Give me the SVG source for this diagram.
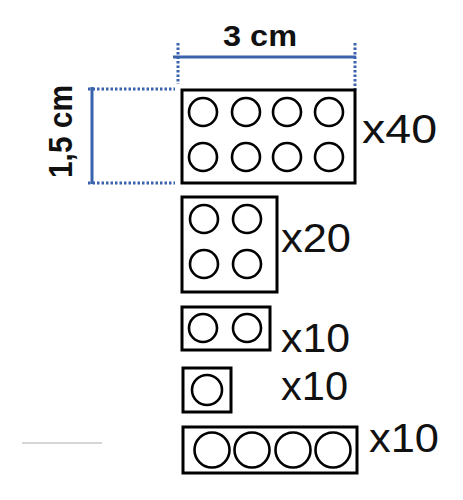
<svg xmlns="http://www.w3.org/2000/svg" width="463" height="500" viewBox="0 0 463 500">
<style>
.brick{fill:#fff;stroke:#000;stroke-width:3}
.stud{fill:none;stroke:#000;stroke-width:2.6}
.dim{stroke:#3a62ad;stroke-width:3;fill:none}
.dot{stroke:#3a62ad;stroke-width:3;stroke-dasharray:2.5 2;fill:none}
.cnt{font-family:"Liberation Sans",Arial,sans-serif;font-size:41px;fill:#111}
.lbl{font-family:"Liberation Sans",Arial,sans-serif;font-weight:bold;fill:#111}
</style>
<rect width="463" height="500" fill="#fff"/>
<g id="dimensions">
<line class="dim" x1="173" y1="57" x2="356" y2="57"/>
<line class="dot" x1="178" y1="43" x2="178" y2="84"/>
<line class="dot" x1="355" y1="43" x2="355" y2="90"/>
<text class="lbl" x="260" y="46" font-size="29" text-anchor="middle" textLength="74" lengthAdjust="spacingAndGlyphs">3 cm</text>
<line class="dim" x1="92" y1="87" x2="92" y2="184"/>
<line class="dot" x1="88" y1="89" x2="175" y2="89"/>
<line class="dot" x1="88" y1="183" x2="175" y2="183"/>
<text class="lbl" transform="translate(72,131.5) rotate(-90)" font-size="33" text-anchor="middle" textLength="93" lengthAdjust="spacingAndGlyphs">1,5 cm</text>
</g>
<g id="brick2x4">
<rect class="brick" x="182" y="90" width="173" height="93"/>
<circle class="stud" cx="203" cy="112" r="14"/>
<circle class="stud" cx="246" cy="112" r="14"/>
<circle class="stud" cx="287" cy="112" r="14"/>
<circle class="stud" cx="329" cy="112" r="14"/>
<circle class="stud" cx="203" cy="157" r="14"/>
<circle class="stud" cx="246" cy="157" r="14"/>
<circle class="stud" cx="287" cy="157" r="14"/>
<circle class="stud" cx="329" cy="157" r="14"/>
<text class="cnt" x="362" y="143" font-size="43" textLength="75" lengthAdjust="spacingAndGlyphs">x40</text>
</g>
<g id="brick2x2">
<rect class="brick" x="182" y="197" width="95" height="95"/>
<circle class="stud" cx="204" cy="219" r="14"/>
<circle class="stud" cx="247" cy="219" r="14"/>
<circle class="stud" cx="204" cy="264" r="14"/>
<circle class="stud" cx="247" cy="264" r="14"/>
<text class="cnt" x="281" y="252" textLength="70" lengthAdjust="spacingAndGlyphs">x20</text>
</g>
<g id="brick1x2">
<rect class="brick" x="182" y="307" width="88" height="43"/>
<circle class="stud" cx="203" cy="328" r="14"/>
<circle class="stud" cx="247" cy="328" r="14"/>
<text class="cnt" x="281" y="352" textLength="69" lengthAdjust="spacingAndGlyphs">x10</text>
</g>
<g id="brick1x1">
<rect class="brick" x="183" y="368" width="48" height="44"/>
<circle class="stud" cx="207" cy="390" r="15"/>
<text class="cnt" x="281" y="400" textLength="67" lengthAdjust="spacingAndGlyphs">x10</text>
</g>
<g id="brick1x4">
<rect class="brick" x="183" y="427" width="174" height="46"/>
<circle class="stud" cx="212" cy="450" r="17.5"/>
<circle class="stud" cx="252" cy="450" r="17.5"/>
<circle class="stud" cx="293" cy="450" r="17.5"/>
<circle class="stud" cx="333" cy="450" r="17.5"/>
<text class="cnt" x="369" y="452" textLength="70" lengthAdjust="spacingAndGlyphs">x10</text>
</g>
<g id="connectors">
<line x1="22" y1="443" x2="102" y2="443" stroke="#c8c8c8" stroke-width="1.5"/>
</g>
</svg>
